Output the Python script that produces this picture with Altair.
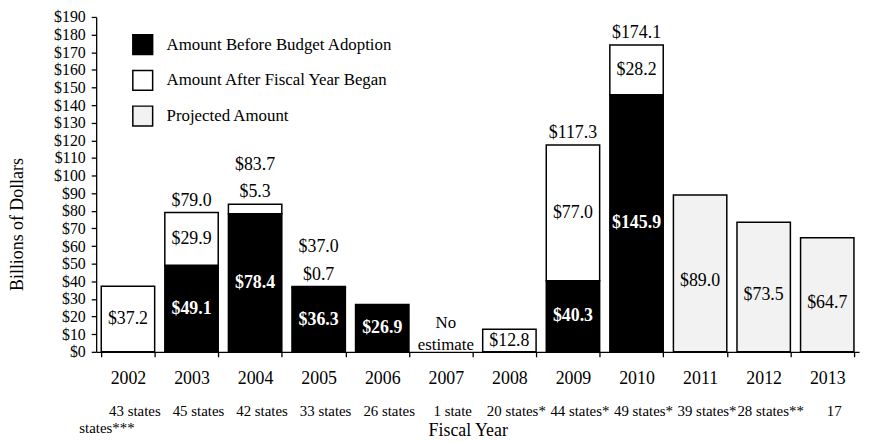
import altair as alt
import pandas as pd

# ---- data ----
years = ["2002", "2003", "2004", "2005", "2006", "2007",
         "2008", "2009", "2010", "2011", "2012", "2013"]
before_adoption = [None, 49.1, 78.4, 36.3, 26.9, None, None, 40.3, 145.9, None, None, None]
after_began = [37.2, 29.9, 5.3, 0.7, None, None, 12.8, 77.0, 28.2, None, None, None]
projected = [None, None, None, None, None, None, None, None, None, 89.0, 73.5, 64.7]
states = ["43 states", "45 states", "42 states", "33 states", "26 states", "1 state",
          "20 states*", "44 states*", "49 states*", "39 states*", "28 states**", "17"]
states_wrap = "states***"
no_estimate_year = "2007"
no_estimate_text = "No\nestimate"
y_ticks = [0, 10, 20, 30, 40, 50, 60, 70, 80, 90, 100, 110, 120, 130, 140, 150, 160, 170, 180, 190]

S_BEFORE = "Amount Before Budget Adoption"
S_AFTER = "Amount After Fiscal Year Began"
S_PROJ = "Projected Amount"
series_order = [S_BEFORE, S_AFTER, S_PROJ]

FONT = "Liberation Serif"

# ---- build tables ----
seg_rows = []
tot_rows = []
for i, yr in enumerate(years):
    b = before_adoption[i]
    a = after_began[i]
    p = projected[i]
    if b is not None:
        seg_rows.append(dict(year=yr, series=S_BEFORE, lo=0.0, hi=b, val=b))
    if a is not None:
        lo = b if b is not None else 0.0
        seg_rows.append(dict(year=yr, series=S_AFTER, lo=lo, hi=lo + a, val=a))
    if p is not None:
        seg_rows.append(dict(year=yr, series=S_PROJ, lo=0.0, hi=p, val=p))
    if b is not None and a is not None:
        tot_rows.append(dict(year=yr, total=round(b + a, 1), small=a < 10))

seg = pd.DataFrame(seg_rows)
seg["mid"] = (seg["lo"] + seg["hi"]) / 2
seg["label"] = seg["val"].map(lambda v: f"${v:.1f}")
tot = pd.DataFrame(tot_rows)
tot["label"] = tot["total"].map(lambda v: f"${v:.1f}")

states_df = pd.DataFrame({"year": years, "states": states})
note_df = pd.DataFrame({"year": [no_estimate_year], "note": [no_estimate_text]})
wrap_df = pd.DataFrame({"t": [states_wrap]})

xaxis = alt.Axis(title="Fiscal Year", labelAngle=0, labelFont=FONT, labelFontSize=18,
                 labelColor="black", labelPadding=13, tickSize=5, tickBand="extent",
                 titleX=375, titleY=79, titleBaseline="middle", titleFont=FONT,
                 titleFontSize=18, titleFontWeight="normal", titleColor="black")
xscale = alt.Scale(domain=years, paddingInner=0.16, paddingOuter=0.08)
yaxis = alt.Axis(title="Billions of Dollars", values=y_ticks,
                 labelExpr="'$' + datum.value", tickSize=5, labelPadding=6,
                 labelFont=FONT, labelFontSize=16, labelColor="black",
                 labelOverlap=False, labelFlush=False, grid=False,
                 titleX=-79, titleY=209, titleBaseline="middle", titleFont=FONT,
                 titleFontSize=18, titleFontWeight="normal", titleColor="black")
yscale = alt.Scale(domain=[0, 190], nice=False)


def X():
    return alt.X("year:N", sort=years, scale=xscale, axis=xaxis)


def Y(field):
    return alt.Y(field, scale=yscale, axis=yaxis)


bars = alt.Chart(seg).mark_bar(stroke="black", strokeWidth=1.5).encode(
    x=X(),
    y=Y("lo:Q"),
    y2="hi:Q",
    color=alt.Color("series:N",
                    scale=alt.Scale(domain=series_order, range=["black", "white", "#f2f2f2"]),
                    legend=alt.Legend(title=None, orient="none", legendX=36, legendY=17,
                                      symbolType="square", symbolSize=400,
                                      symbolStrokeColor="black", symbolStrokeWidth=1.5,
                                      symbolOpacity=1, labelFontSize=17, labelFont=FONT,
                                      labelColor="black", rowPadding=10, labelOffset=13,
                                      padding=0, labelLimit=400)),
)

lbl_before = alt.Chart(seg).transform_filter(
    alt.datum.series == S_BEFORE
).mark_text(font=FONT, fontSize=18, fontWeight="bold", color="white", baseline="middle").encode(
    x=X(), y=Y("mid:Q"), text="label:N")

lbl_after = alt.Chart(seg).transform_filter(
    (alt.datum.series == S_AFTER) & (alt.datum.val >= 10)
).mark_text(font=FONT, fontSize=18, color="black", baseline="middle").encode(
    x=X(), y=Y("mid:Q"), text="label:N")

lbl_proj = alt.Chart(seg).transform_filter(
    alt.datum.series == S_PROJ
).mark_text(font=FONT, fontSize=18, color="black", baseline="middle", dy=8).encode(
    x=X(), y=Y("mid:Q"), text="label:N")

lbl_small = alt.Chart(seg).transform_filter(
    (alt.datum.series == S_AFTER) & (alt.datum.val < 10)
).mark_text(font=FONT, fontSize=18, color="black", baseline="middle", dy=-12).encode(
    x=X(), y=Y("hi:Q"), text="label:N")

lbl_tot = alt.Chart(tot).transform_filter(
    alt.datum.small == False
).mark_text(font=FONT, fontSize=18, color="black", baseline="middle", dy=-12).encode(
    x=X(), y=Y("total:Q"), text="label:N")

lbl_tot_small = alt.Chart(tot).transform_filter(
    alt.datum.small == True
).mark_text(font=FONT, fontSize=18, color="black", baseline="middle", dy=-40).encode(
    x=X(), y=Y("total:Q"), text="label:N")

note = alt.Chart(note_df).mark_text(font=FONT, fontSize=17, color="black", baseline="middle",
                                    lineBreak="\n", lineHeight=22).encode(
    x=X(), y=alt.value(309), text="note:N")

states_txt = alt.Chart(states_df).mark_text(font=FONT, fontSize=15, color="black",
                                             baseline="middle", dx=7).encode(
    x=X(), y=alt.value(398), text="states:N")

wrap_txt = alt.Chart(wrap_df).mark_text(font=FONT, fontSize=15, color="black",
                                         baseline="middle", align="left").encode(
    x=alt.value(-17), y=alt.value(415), text="t:N")

chart = alt.layer(
    bars, lbl_before, lbl_after, lbl_proj, lbl_small, lbl_tot, lbl_tot_small,
    note, states_txt, wrap_txt
).properties(
    width=770, height=338,
    padding={"left": 89, "top": 7, "right": 4, "bottom": 92},
    autosize=alt.AutoSizeParams(type="none"),
    background="white",
).configure_view(stroke=None).configure_axis(
    domainColor="black", tickColor="black", domainWidth=1.3, tickWidth=1.3,
)

chart.save("out.html", embed_options={"renderer": "svg", "actions": False})
